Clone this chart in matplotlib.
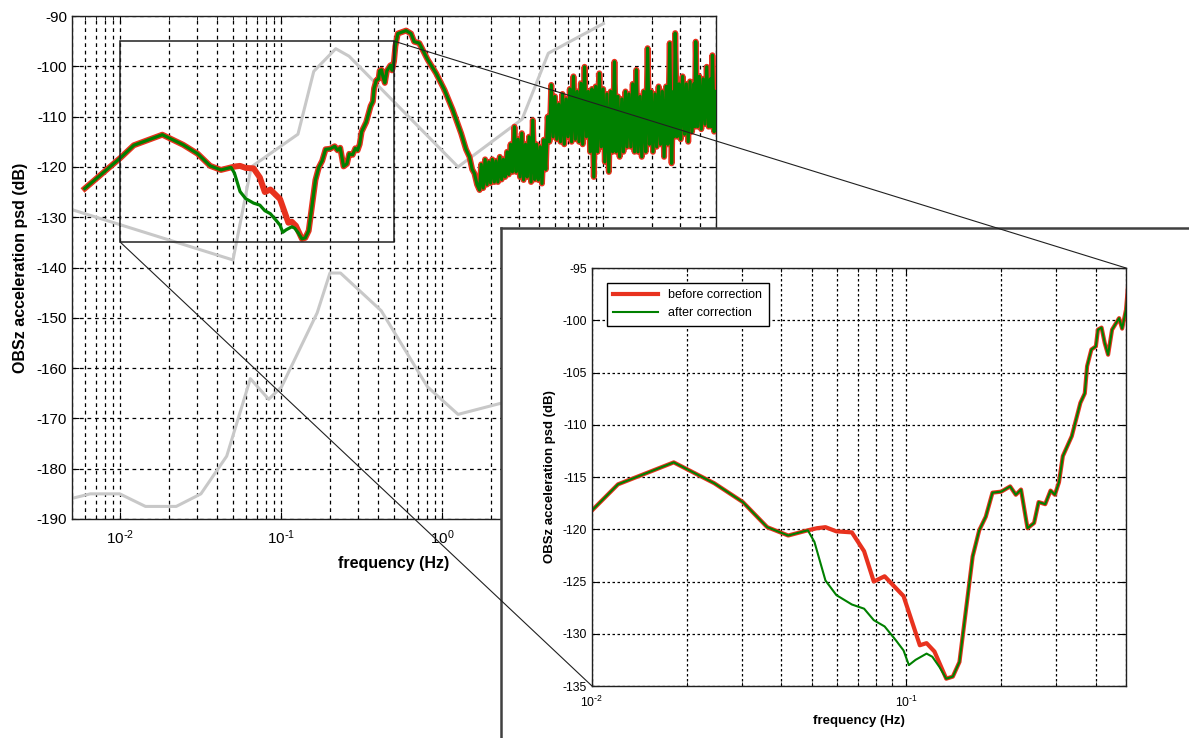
import math

import matplotlib
matplotlib.use("Agg")
import matplotlib.pyplot as plt
from matplotlib.patches import Rectangle, ConnectionPatch
from matplotlib.ticker import LogLocator, NullFormatter, FuncFormatter

plt.rcParams["font.family"] = ["Liberation Sans", "DejaVu Sans"]
plt.rcParams["axes.unicode_minus"] = False

# vertical acceleration PSD before correction, low band (Hz, dB)
lf_freq_hz = [
    0.006, 0.01, 0.0121, 0.0182, 0.0245, 0.0302, 0.0361, 0.0421, 0.0486,
    0.052, 0.0553, 0.0599, 0.0671, 0.0734, 0.0788, 0.0853, 0.098, 0.1104,
    0.116, 0.1229, 0.134, 0.1406, 0.1476, 0.1626, 0.1706, 0.179, 0.188,
    0.2005, 0.214, 0.223, 0.2317, 0.243, 0.255, 0.2636, 0.2767, 0.2877,
    0.297, 0.306, 0.3148, 0.336, 0.3467, 0.358, 0.3697, 0.376, 0.388, 0.401,
    0.407, 0.418, 0.428, 0.4385, 0.4515, 0.4753, 0.486, 0.5, 0.51, 0.528,
    0.594, 0.638, 0.667, 0.718, 0.81, 0.913, 1.029, 1.159, 1.305, 1.40,
    1.472, 1.53, 1.58, 1.64,
]
lf_psd_db = [
    -124.3, -118.2, -115.7, -113.6, -115.6, -117.4, -119.8, -120.6, -120.1,
    -119.9, -119.8, -120.2, -120.3, -122.1, -125.0, -124.5, -126.4, -131.1,
    -130.9, -131.7, -134.3, -134.1, -132.7, -122.6, -120.1, -118.8, -116.5,
    -116.4, -115.9, -116.7, -116.2, -119.9, -119.4, -117.4, -117.6, -116.3,
    -116.7, -115.5, -113.0, -111.1, -109.5, -107.9, -107.0, -104.4, -102.8, -102.5,
    -100.9, -100.7, -102.2, -103.3, -100.9, -99.8, -100.8, -99.0, -96.0, -93.5,
    -92.9, -93.5, -95.1, -95.4, -98.7, -101.4, -104.7, -108.7, -113.3, -116.5,
    -118.0, -120.5, -121.3, -123.5,
]

# high band, where the spectrum is dense and spiky (Hz, dB)
hf_points = [
    (1.70, -124.6), (1.74, -119.5), (1.79, -124.2), (1.84, -118.5),
    (1.89, -123.5), (1.94, -119.0), (1.99, -123.2), (2.04, -118.5),
    (2.10, -123.0), (2.15, -118.8), (2.21, -123.0), (2.27, -118.0),
    (2.33, -122.5), (2.39, -118.5), (2.45, -122.0), (2.52, -117.0),
    (2.58, -121.5), (2.65, -115.5), (2.72, -121.0), (2.80, -112.0),
    (2.87, -121.0), (2.95, -114.5), (3.03, -122.0), (3.11, -113.3),
    (3.19, -122.6), (3.28, -115.5), (3.36, -122.0), (3.45, -114.0),
    (3.55, -123.0), (3.64, -110.7), (3.74, -122.5), (3.84, -115.5),
    (3.94, -122.6), (4.05, -116.0), (4.15, -123.3), (4.26, -114.6),
    (4.38, -120.5), (4.50, -110.0), (4.62, -115.0), (4.74, -103.7),
    (4.87, -114.0), (5.00, -106.0), (5.13, -114.5), (5.27, -107.5),
    (5.41, -115.0), (5.56, -105.5), (5.71, -115.5), (5.86, -106.5),
    (6.02, -114.0), (6.18, -104.5), (6.34, -115.0), (6.51, -102.0),
    (6.69, -114.5), (6.87, -105.0), (7.05, -115.0), (7.24, -103.4),
    (7.43, -115.5), (7.63, -100.1), (7.84, -114.0), (8.05, -105.0),
    (8.26, -117.0), (8.48, -104.5), (8.71, -122.0), (8.95, -104.0),
    (9.19, -117.0), (9.43, -101.4), (9.69, -116.0), (9.95, -104.5),
    (10.2, -119.0), (10.5, -105.5), (10.8, -121.0), (11.1, -105.0),
    (11.4, -117.0), (11.7, -99.1), (12.0, -117.0), (12.3, -106.0),
    (12.6, -118.0), (13.0, -106.5), (13.3, -117.0), (13.7, -105.0),
    (14.0, -116.0), (14.4, -105.5), (14.8, -116.0), (15.2, -103.5),
    (15.6, -117.0), (16.0, -100.7), (16.4, -117.0), (16.9, -106.0),
    (17.3, -118.0), (17.8, -105.0), (18.3, -117.0), (18.8, -96.4),
    (19.3, -115.5), (19.8, -105.0), (20.3, -117.0), (20.9, -105.5),
    (21.4, -116.0), (22.0, -104.0), (22.6, -115.5), (23.2, -105.0),
    (23.8, -118.0), (24.5, -104.0), (25.1, -115.5), (25.8, -95.4),
    (26.5, -119.3), (27.2, -105.0), (27.5, -114.0), (27.9, -93.4),
    (28.7, -114.0), (29.5, -103.5), (30.2, -114.5), (31.0, -102.0),
    (31.9, -113.5), (32.7, -103.5), (33.6, -115.0), (34.5, -103.0),
    (35.5, -113.0), (36.4, -103.5), (36.9, -112.0), (37.4, -95.1),
    (38.4, -112.0), (39.4, -102.0), (40.5, -112.5), (41.6, -102.5),
    (42.7, -111.5), (43.8, -100.1), (45.0, -112.0), (46.2, -102.5),
    (46.8, -112.0), (47.5, -97.8), (48.7, -113.0), (50.0, -105.0),
]

# corrected stretch where the two spectra differ
corr_freq_hz = [0.051, 0.0553, 0.0599, 0.0671, 0.0734, 0.0788, 0.0853,
                0.0925, 0.098, 0.1019, 0.107, 0.116, 0.121, 0.1276]
corr_psd_db = [-121.2, -124.9, -126.3, -127.2, -127.6, -128.7, -129.3,
               -130.6, -131.6, -133.0, -132.5, -131.9, -132.2, -133.2]

# Peterson new high / low noise models (Hz, dB)
nhnm_freq_hz = [0.005, 0.05, 0.0649, 0.1266, 0.1587, 0.2174, 0.2632,
                1.25, 3.125, 4.545, 10.0]
nhnm_db = [-128.5, -138.5, -120.0, -113.5, -101.0, -96.5, -98.0,
           -120.0, -110.5, -97.4, -91.5]
nlnm_freq_hz = [0.005, 0.0065, 0.0099, 0.0143, 0.0222, 0.0316, 0.0457,
                0.0641, 0.0833, 0.1, 0.1667, 0.2, 0.2326, 0.4167, 0.806,
                1.25, 2.5, 5.88, 10.0]
nlnm_db = [-185.9, -185.0, -185.0, -187.5, -187.5, -185.0, -177.5,
           -162.1, -166.2, -163.75, -149.0, -141.1, -141.1, -148.6, -163.7,
           -169.2, -166.7, -166.7, -168.0]

zoom_f = (0.01, 0.5)
zoom_db = (-135, -95)

hf_freq_hz = [p[0] for p in hf_points]
hf_psd_db = [p[1] for p in hf_points]
freq_hz = lf_freq_hz + hf_freq_hz
psd_before_db = lf_psd_db + hf_psd_db

after_f, after_db = [], []
for f, v in zip(freq_hz, psd_before_db):
    if f <= 0.0486:
        after_f.append(f)
        after_db.append(v)
after_f += corr_freq_hz
after_db += corr_psd_db
for f, v in zip(freq_hz, psd_before_db):
    if f >= 0.134:
        after_f.append(f)
        after_db.append(v)

RED = "#e8321e"
GREEN = "#008000"
GREY = "#c8c8c8"


def decade_label(v, pos):
    # 10^n with a plain hyphen in the exponent
    n = int(round(math.log10(v)))
    if n < 0:
        return r"$\mathdefault{10^{\text{-}%d}}$" % (-n)
    return r"$\mathdefault{10^{%d}}$" % n


def style_axes(a, dash, tick_fs, xpad):
    a.set_xscale("log")
    a.xaxis.set_major_formatter(FuncFormatter(decade_label))
    a.xaxis.set_minor_locator(LogLocator(base=10, subs=range(2, 10), numticks=20))
    a.xaxis.set_minor_formatter(NullFormatter())
    a.grid(True, which="major", axis="both", color="black", ls=dash, lw=0.9)
    a.grid(True, which="minor", axis="x", color="black", ls=dash, lw=0.9)
    a.set_axisbelow(True)
    a.tick_params(which="both", direction="in", top=True, right=True,
                  labelsize=tick_fs, colors="black")
    a.tick_params(which="major", length=5)
    a.tick_params(which="minor", length=3)
    a.tick_params(axis="x", which="major", pad=xpad)
    for s in a.spines.values():
        s.set_color("#202020")
        s.set_linewidth(1.0)


fig = plt.figure(figsize=(11.89, 7.38), dpi=100)
fig.patch.set_facecolor("white")

# main spectrum
ax = fig.add_axes([72 / 1189, 1 - 519 / 738, 644 / 1189, 503 / 738], zorder=1)
style_axes(ax, (0, (3, 3)), 11, 7)
ax.plot(nhnm_freq_hz, nhnm_db, color=GREY, lw=2.2, zorder=2)
ax.plot(nlnm_freq_hz, nlnm_db, color=GREY, lw=2.2, zorder=2)
ax.plot(freq_hz, psd_before_db, color=RED, lw=4.3, zorder=3)
ax.plot(after_f, after_db, color=GREEN, lw=2.3, zorder=4)
ax.add_patch(Rectangle((zoom_f[0], zoom_db[0]), zoom_f[1] - zoom_f[0],
                       zoom_db[1] - zoom_db[0], fill=False, ec="#202020",
                       lw=1.1, zorder=5))
ax.set_xlim(0.005, 50)
ax.set_ylim(-190, -90)
ax.set_yticks(range(-190, -89, 10))
ax.set_xlabel("frequency (Hz)", fontsize=11.5, fontweight="bold", labelpad=6)
ax.set_ylabel("OBSz acceleration psd (dB)", fontsize=11.5, fontweight="bold",
              labelpad=6)

# framed panel behind the zoomed view
panel = fig.add_axes([501 / 1189, -0.05, 0.62, (738 - 228) / 738 + 0.05], zorder=2)
panel.set_xticks([])
panel.set_yticks([])
for s in panel.spines.values():
    s.set_color("#404040")
    s.set_linewidth(1.8)

# zoomed view
ins = fig.add_axes([592 / 1189, 1 - 686 / 738, 534 / 1189, 418 / 738], zorder=3)
style_axes(ins, (0, (2, 2)), 8.8, 6)
ins.plot(freq_hz, psd_before_db, color=RED, lw=3.0, label="before correction")
ins.plot(after_f, after_db, color=GREEN, lw=1.5, label="after correction")
ins.set_xlim(*zoom_f)
ins.set_ylim(*zoom_db)
ins.set_yticks(range(-135, -94, 5))
ins.set_xlabel("frequency (Hz)", fontsize=9.5, fontweight="bold", labelpad=4)
ins.set_ylabel("OBSz acceleration psd (dB)", fontsize=9.5, fontweight="bold",
               labelpad=5)
leg = ins.legend(loc="upper left", fontsize=9, fancybox=False,
                 edgecolor="black", framealpha=1, handlelength=3.6,
                 borderaxespad=1.2, borderpad=0.5, labelspacing=0.5)
leg.get_frame().set_linewidth(1.0)

# lines tying the rectangle to the zoomed view
for corner in [(zoom_f[1], zoom_db[1]), (zoom_f[0], zoom_db[0])]:
    con = ConnectionPatch(xyA=corner, coordsA=ax.transData,
                          xyB=corner, coordsB=ins.transData,
                          color="#202020", lw=0.8)
    con.set_zorder(2.5)
    fig.add_artist(con)

fig.savefig("out.png", dpi=100)
